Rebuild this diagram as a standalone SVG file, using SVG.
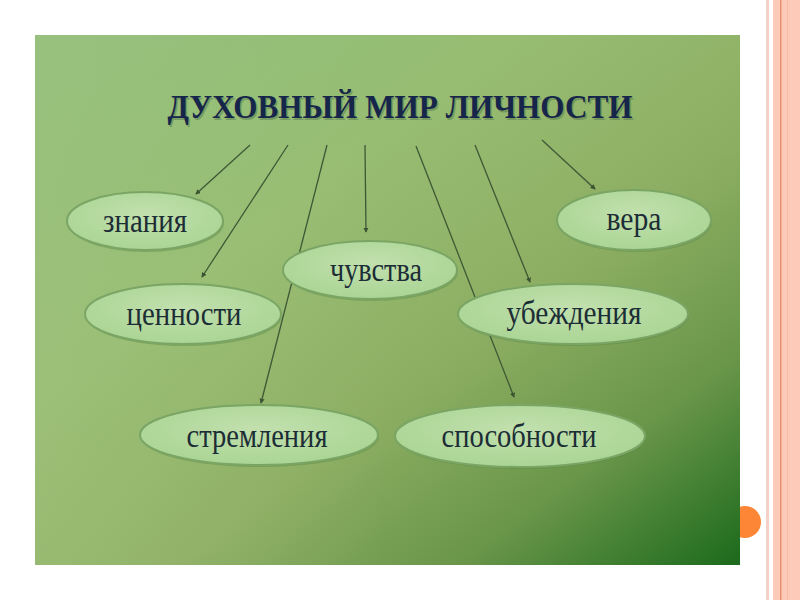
<svg xmlns="http://www.w3.org/2000/svg" width="800" height="600" viewBox="0 0 800 600">
<defs>
<linearGradient id="bg" x1="0" y1="0" x2="1" y2="1">
<stop offset="0" stop-color="#8fbf7b"/>
<stop offset="0.35" stop-color="#97bd72"/>
<stop offset="0.6" stop-color="#8cae62"/>
<stop offset="0.8" stop-color="#6a964a"/>
<stop offset="1" stop-color="#1c6a1c"/>
</linearGradient>
<linearGradient id="bg2" x1="0" y1="0" x2="1" y2="0">
<stop offset="0" stop-color="#a6c482" stop-opacity="0.35"/>
<stop offset="0.5" stop-color="#a6c482" stop-opacity="0"/>
</linearGradient>
<radialGradient id="ell" cx="0.5" cy="0.4" r="0.6">
<stop offset="0" stop-color="#c2e0ae"/>
<stop offset="1" stop-color="#aad594"/>
</radialGradient>
<marker id="arr" viewBox="0 0 6 6" refX="5" refY="3" markerWidth="4" markerHeight="4" orient="auto">
<path d="M0,0 L6,3 L0,6 z" fill="#3b5232"/>
</marker>
</defs>
<style>
.node ellipse{fill:url(#ell);stroke:#7aa564;stroke-width:2}
.node .sh{fill:#5d8a48;stroke:none;opacity:0.45}
.node text{font-family:"Liberation Serif","DejaVu Serif",serif;font-size:34px;fill:#1c2d36;text-anchor:middle}
.conn line{stroke:#3e5836;stroke-width:1.3;marker-end:url(#arr)}
</style>
<rect x="0" y="0" width="800" height="600" fill="#ffffff"/>
<rect x="773" y="0" width="27" height="600" fill="#fdcab9"/>
<rect x="766" y="0" width="3" height="600" fill="#f2d2c8"/>
<rect x="780" y="0" width="1.5" height="600" fill="#e8906e"/>
<rect x="787" y="0" width="1" height="600" fill="#f7bca6"/>
<circle cx="745" cy="522" r="16" fill="#fd8636"/>
<rect x="35" y="35" width="705" height="530" fill="url(#bg)"/>
<rect x="35" y="35" width="705" height="530" fill="url(#bg2)"/>
<text x="400" y="118" font-family="'Liberation Serif','DejaVu Serif',serif" font-weight="bold" font-size="34" fill="#3a5a3a" text-anchor="middle" textLength="465" lengthAdjust="spacingAndGlyphs" opacity="0.35" transform="translate(1.5,1.5)">ДУХОВНЫЙ МИР ЛИЧНОСТИ</text>
<text id="title" x="400" y="118" font-family="'Liberation Serif','DejaVu Serif',serif" font-weight="bold" font-size="34" fill="#16264a" text-anchor="middle" textLength="465" lengthAdjust="spacingAndGlyphs">ДУХОВНЫЙ МИР ЛИЧНОСТИ</text>
<g id="connectors" class="conn">
<line x1="250" y1="145" x2="196" y2="194"/>
<line x1="288" y1="145" x2="202" y2="277"/>
<line x1="327" y1="145" x2="261" y2="403"/>
<line x1="365" y1="145" x2="366" y2="232"/>
<line x1="416" y1="146" x2="514" y2="397"/>
<line x1="475" y1="145" x2="530" y2="282"/>
<line x1="542" y1="140" x2="595" y2="189"/>
</g>
<g id="n-znaniya" class="node">
<ellipse class="sh" cx="146" cy="223" rx="78" ry="29"/>
<ellipse cx="145" cy="221" rx="78" ry="29"/>
<text x="145" y="232" textLength="84" lengthAdjust="spacingAndGlyphs">знания</text>
</g>
<g id="n-vera" class="node">
<ellipse class="sh" cx="635" cy="222" rx="77" ry="30"/>
<ellipse cx="634" cy="220" rx="77" ry="30"/>
<text x="634" y="230" textLength="55" lengthAdjust="spacingAndGlyphs">вера</text>
</g>
<g id="n-chuvstva" class="node">
<ellipse class="sh" cx="371" cy="272" rx="87" ry="29"/>
<ellipse cx="370" cy="270" rx="87" ry="29"/>
<text x="376" y="281" textLength="92" lengthAdjust="spacingAndGlyphs">чувства</text>
</g>
<g id="n-tsennosti" class="node">
<ellipse class="sh" cx="184" cy="316" rx="98" ry="30"/>
<ellipse cx="183" cy="314" rx="98" ry="30"/>
<text x="184" y="325" textLength="115" lengthAdjust="spacingAndGlyphs">ценности</text>
</g>
<g id="n-ubezhdeniya" class="node">
<ellipse class="sh" cx="574" cy="316" rx="115" ry="30"/>
<ellipse cx="573" cy="314" rx="115" ry="30"/>
<text x="574" y="324" textLength="135" lengthAdjust="spacingAndGlyphs">убеждения</text>
</g>
<g id="n-stremleniya" class="node">
<ellipse class="sh" cx="260" cy="437" rx="119" ry="30"/>
<ellipse cx="259" cy="435" rx="119" ry="30"/>
<text x="257" y="447" textLength="141" lengthAdjust="spacingAndGlyphs">стремления</text>
</g>
<g id="n-sposobnosti" class="node">
<ellipse class="sh" cx="521" cy="438" rx="125" ry="31"/>
<ellipse cx="520" cy="436" rx="125" ry="31"/>
<text x="519" y="447" textLength="155" lengthAdjust="spacingAndGlyphs">способности</text>
</g>
</svg>
